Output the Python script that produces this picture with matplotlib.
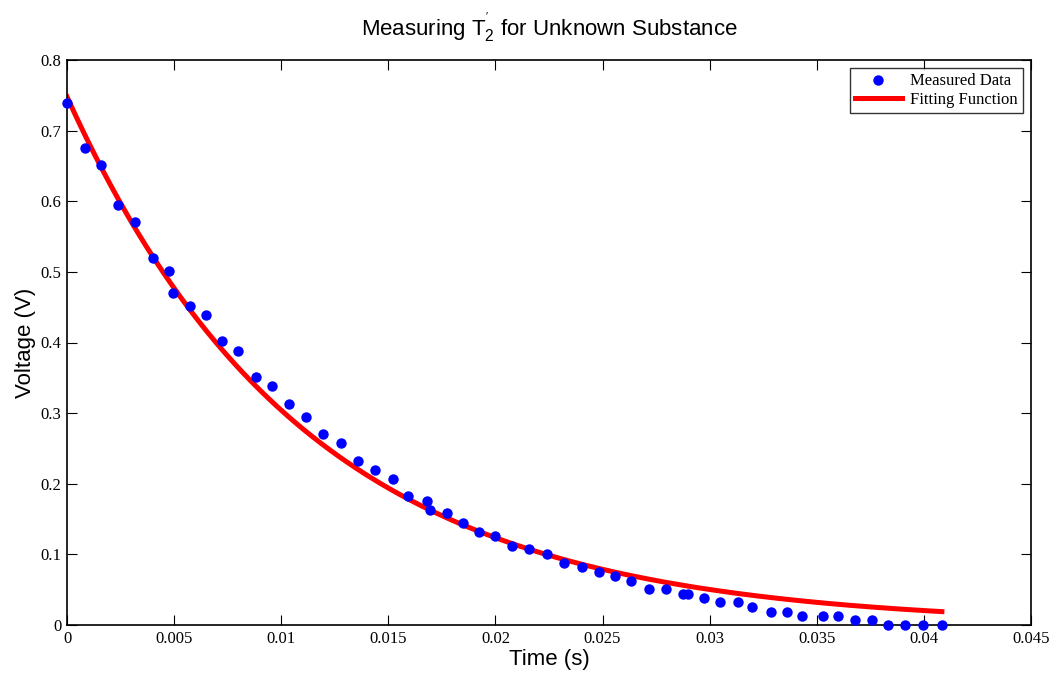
import numpy as np
import matplotlib
matplotlib.use("Agg")
import matplotlib.pyplot as plt

time_s = [0.0000, 0.00083, 0.00157, 0.00240, 0.00318, 0.00400, 0.00478, 0.00497,
          0.00573, 0.00647, 0.00722, 0.00797, 0.00883, 0.00958, 0.01037, 0.01116,
          0.01197, 0.01277, 0.01358, 0.01436, 0.01520, 0.01593, 0.01682, 0.01696,
          0.01773, 0.01847, 0.01921, 0.01998, 0.02075, 0.02157, 0.02241, 0.02318,
          0.02402, 0.02484, 0.02558, 0.02631, 0.02717, 0.02797, 0.02874, 0.02899,
          0.02972, 0.03047, 0.03133, 0.03198, 0.03284, 0.03362, 0.03429, 0.03528,
          0.03598, 0.03680, 0.03757, 0.03834, 0.03914, 0.03994, 0.04084]
voltage_v = [0.739, 0.676, 0.651, 0.595, 0.570, 0.520, 0.501, 0.470,
             0.451, 0.439, 0.402, 0.388, 0.351, 0.338, 0.313, 0.295,
             0.270, 0.257, 0.232, 0.219, 0.207, 0.182, 0.176, 0.163,
             0.158, 0.145, 0.132, 0.126, 0.112, 0.107, 0.101, 0.088,
             0.082, 0.075, 0.069, 0.063, 0.051, 0.051, 0.044, 0.044,
             0.038, 0.032, 0.032, 0.025, 0.019, 0.019, 0.013, 0.013,
             0.013, 0.007, 0.007, 0.000, 0.000, 0.000, 0.000]

# Fitted exponential decay parameters
fit_amplitude = 0.748
fit_t2 = 0.01111
fit_t_end = 0.04084

x_ticks = [0, 0.005, 0.01, 0.015, 0.02, 0.025, 0.03, 0.035, 0.04, 0.045]
x_tick_labels = ["0", "0.005", "0.01", "0.015", "0.02", "0.025", "0.03", "0.035", "0.04", "0.045"]
y_ticks = [0, 0.1, 0.2, 0.3, 0.4, 0.5, 0.6, 0.7, 0.8]
y_tick_labels = ["0", "0.1", "0.2", "0.3", "0.4", "0.5", "0.6", "0.7", "0.8"]

plt.rcParams['mathtext.fontset'] = 'custom'
plt.rcParams['mathtext.rm'] = 'Liberation Sans'
plt.rcParams['mathtext.it'] = 'Liberation Sans'

fig = plt.figure(figsize=(10.52, 6.74), dpi=100)
ax = fig.add_axes([67 / 1052, 49 / 674, 964 / 1052, 565 / 674])

fit_t = np.linspace(0, fit_t_end, 400)
fit_v = fit_amplitude * np.exp(-fit_t / fit_t2)

ax.plot(time_s, voltage_v, 'o', color='#0000ff', markersize=7.5,
        markeredgewidth=0, label='Measured Data', clip_on=False, zorder=3)
ax.plot(fit_t, fit_v, '-', color='#ff0000', linewidth=3.6,
        label='Fitting Function', zorder=2)

ax.set_xlim(0, 0.045)
ax.set_ylim(0, 0.8)
ax.set_xticks(x_ticks)
ax.set_xticklabels(x_tick_labels)
ax.set_yticks(y_ticks)
ax.set_yticklabels(y_tick_labels)

for lab in ax.get_xticklabels() + ax.get_yticklabels():
    lab.set_fontfamily('Liberation Serif')
    lab.set_fontsize(12)

ax.tick_params(direction='in', length=7, width=0.8, top=True, right=True,
               colors='black', pad=4)
for s in ax.spines.values():
    s.set_linewidth(1.2)
    s.set_color('black')

ax.set_xlabel('Time (s)', fontfamily='Liberation Sans', fontsize=16, labelpad=2)
ax.set_ylabel('Voltage (V)', fontfamily='Liberation Sans', fontsize=16, labelpad=3)
ax.set_title(r"Measuring $\mathregular{T}_{2}^{'}$ for Unknown Substance",
             fontfamily='Liberation Sans', fontsize=16, pad=18)

leg = ax.legend(loc='upper right', prop={'family': 'Liberation Serif', 'size': 12},
                frameon=True, fancybox=False, edgecolor='black',
                borderaxespad=0.5, handlelength=2.8, borderpad=0.3,
                labelspacing=0.15, handletextpad=0.5)
leg.get_frame().set_linewidth(1.0)

fig.savefig('out.png', dpi=100, facecolor='white')
